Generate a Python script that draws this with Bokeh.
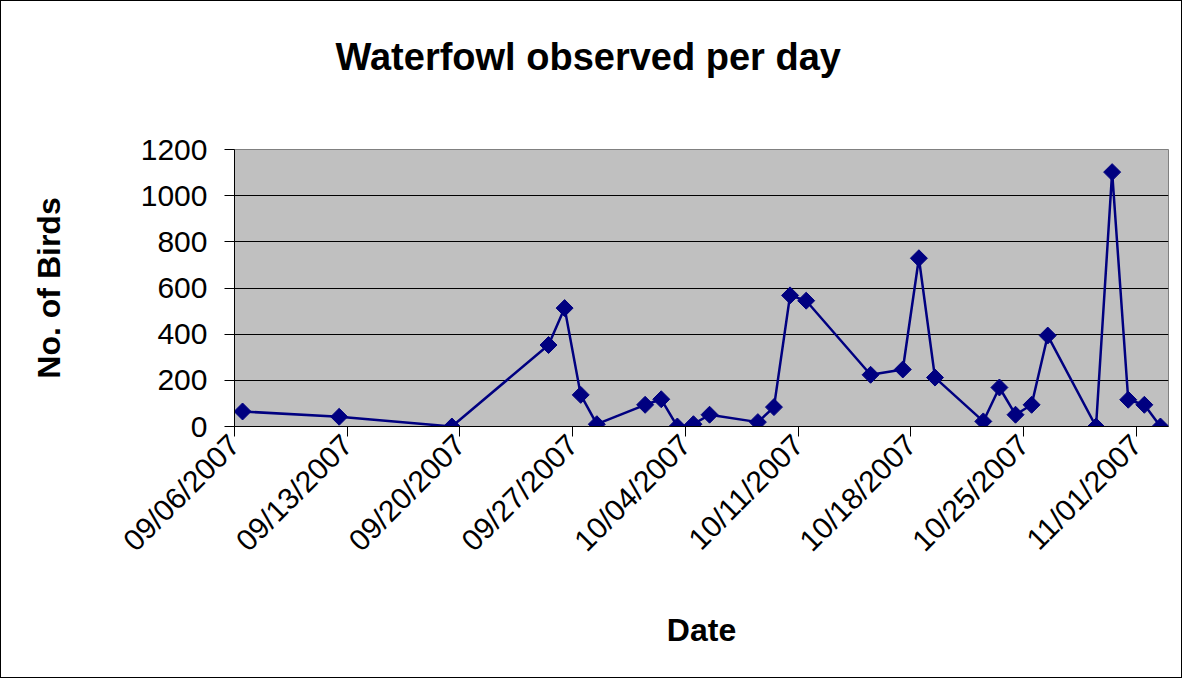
import math
from datetime import datetime, timedelta
from bokeh.plotting import figure
from bokeh.models import Range1d, FixedTicker, DatetimeTickFormatter, ColumnDataSource
from bokeh.embed import file_html
from bokeh.resources import INLINE

# ---- data ----
obs_dates = ["2007-09-06", "2007-09-12", "2007-09-19", "2007-09-25", "2007-09-26",
             "2007-09-27", "2007-09-28", "2007-10-01", "2007-10-02", "2007-10-03",
             "2007-10-04", "2007-10-05", "2007-10-08", "2007-10-09", "2007-10-10",
             "2007-10-11", "2007-10-15", "2007-10-17", "2007-10-18", "2007-10-19",
             "2007-10-22", "2007-10-23", "2007-10-24", "2007-10-25", "2007-10-26",
             "2007-10-29", "2007-10-30", "2007-10-31", "2007-11-01", "2007-11-02"]
birds = [65, 42, 0, 353, 513, 137, 10, 94, 118, 0,
         10, 51, 19, 84, 568, 545, 224, 247, 729, 212,
         22, 169, 51, 94, 394, 0, 1102, 116, 94, 0]
tick_dates = ["2007-09-06", "2007-09-13", "2007-09-20", "2007-09-27", "2007-10-04",
              "2007-10-11", "2007-10-18", "2007-10-25", "2007-11-01"]
y_ticks = [0, 200, 400, 600, 800, 1000, 1200]
title_text = "Waterfowl observed per day"

FONT = "Liberation Sans"

def parse(s):
    return datetime.strptime(s, "%Y-%m-%d")

# points sit in the middle of each day slot (Excel date axis)
xs = [parse(d) + timedelta(hours=12) for d in obs_dates]
src = ColumnDataSource(dict(x=xs, y=birds))

p = figure(width=1182, height=678, output_backend="svg", toolbar_location=None,
           x_axis_type="datetime",
           x_range=Range1d(parse("2007-09-06"), parse("2007-11-03")),
           y_range=Range1d(0, 1200),
           min_border_left=233, min_border_right=15, min_border_top=148, min_border_bottom=253)

p.styles = {"border": "1px solid black"}

p.background_fill_color = "#C0C0C0"
p.border_fill_color = "white"
p.outline_line_color = "#808080"
p.outline_line_width = 1

# a trailing blank line lifts the title higher above the plot area
p.title.text = title_text + "\n "
p.title.text_font = FONT
p.title.text_font_size = "38px"
p.title.text_font_style = "bold"
p.title.text_color = "black"
p.title.align = "left"
p.title.offset = 101
p.title.standoff = 60

p.line("x", "y", source=src, line_color="#000080", line_width=2.5)
p.scatter("x", "y", source=src, marker="square", angle=math.pi / 4, size=12,
          fill_color="#000080", line_color="#000080")

# grid
p.xgrid.grid_line_color = None
p.ygrid.grid_line_color = "black"
p.ygrid.grid_line_width = 1

# y axis
p.yaxis.ticker = FixedTicker(ticks=y_ticks)
p.yaxis.axis_label = "No. of Birds"
# x axis
p.xaxis.ticker = FixedTicker(ticks=[parse(d).timestamp() * 1000 for d in tick_dates])
p.xaxis.formatter = DatetimeTickFormatter(days="%m/%d/%Y", months="%m/%d/%Y",
                                          years="%m/%d/%Y", hours="%m/%d/%Y")
p.xaxis.major_label_orientation = math.pi / 4
p.xaxis.axis_label = "Date"

for ax in (p.xaxis[0], p.yaxis[0]):
    ax.axis_line_color = "black"
    ax.axis_line_width = 1
    ax.major_tick_line_color = "black"
    ax.major_tick_in = 0
    ax.major_tick_out = 10
    ax.minor_tick_line_color = None
    ax.major_label_text_font = FONT
    ax.major_label_text_font_size = "30px"
    ax.major_label_text_color = "black"
    ax.axis_label_text_font = FONT
    ax.axis_label_text_font_size = "32px"
    ax.axis_label_text_font_style = "bold"
    ax.axis_label_text_color = "black"

p.yaxis.major_label_standoff = 17
p.yaxis.axis_label_standoff = 71
p.xaxis.major_label_standoff = 3
p.xaxis.axis_label_standoff = 40

open("out.html", "w").write(file_html(p, INLINE))
